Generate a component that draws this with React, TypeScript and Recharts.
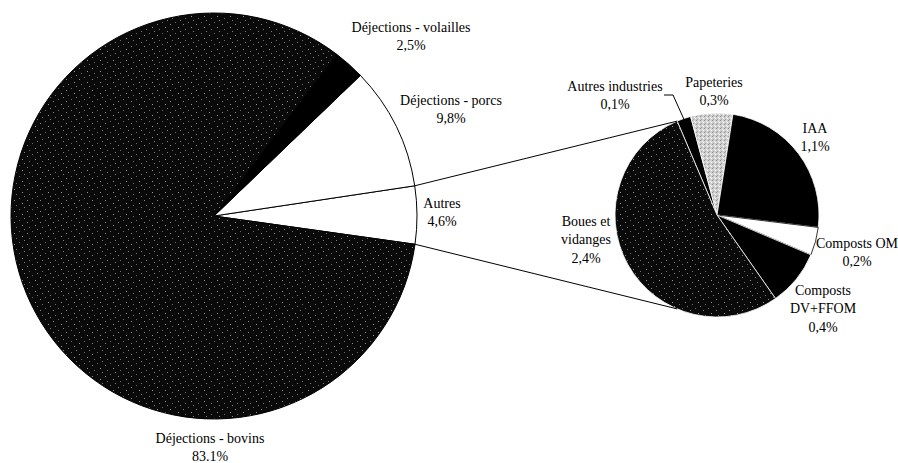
import React from 'react';
import { PieChart, Pie, Cell } from 'recharts';

// ---- data ----
const BIG_NAMES = ['Autres', 'Déjections - porcs', 'Déjections - volailles', 'Déjections - bovins'];
const BIG_VALUES = [4.6, 9.8, 2.5, 83.1];
const BIG_PCT_TEXT = ['4,6%', '9,8%', '2,5%', '83.1%'];

const SMALL_NAMES = ['Autres industries', 'Papeteries', 'IAA', 'Composts OM', 'Composts DV+FFOM', 'Boues et vidanges'];
const SMALL_VALUES = [0.1, 0.3, 1.1, 0.2, 0.4, 2.4];
const SMALL_PCT_TEXT = ['0,1%', '0,3%', '1,1%', '0,2%', '0,4%', '2,4%'];
const SMALL_NAME_LINES = [['Autres industries'], ['Papeteries'], ['IAA'], ['Composts OM'], ['Composts', 'DV+FFOM'], ['Boues et', 'vidanges']];

// ---- styles / layout ----
const BIG_FILLS = ['#ffffff', '#ffffff', '#000000', 'url(#darkDots)'];
const SMALL_FILLS = ['#000000', 'url(#lightDots)', '#000000', '#ffffff', '#000000', 'url(#darkDots)'];
const SMALL_STROKES = ['#ffffff', '#ffffff', '#ffffff', '#000000', '#ffffff', '#ffffff'];

const W = 898;
const H = 463;
const BIG = { cx: 214, cy: 216, r: 203, start: -8 };
const SMALL = { cx: 717, cy: 215, r: 102, start: 113 };
const FONT = "'Liberation Serif', 'Times New Roman', serif";
const FS = 14;
const LINE_H = 18.5;

// label anchors (center x, first line center y)
const BIG_LABEL_POS = [
  { x: 442, y: 203 },
  { x: 451, y: 100 },
  { x: 411, y: 27 },
  { x: 210, y: 438 },
];
const SMALL_LABEL_POS = [
  { x: 615, y: 86 },
  { x: 714, y: 82 },
  { x: 815, y: 128 },
  { x: 857, y: 243 },
  { x: 823, y: 290 },
  { x: 586, y: 221 },
];

const bigData = BIG_NAMES.map((name, i) => ({ name, value: BIG_VALUES[i] }));
const smallData = SMALL_NAMES.map((name, i) => ({ name, value: SMALL_VALUES[i] }));

const RAD = Math.PI / 180;
const polar = (cx: number, cy: number, r: number, a: number) => ({
  x: cx + r * Math.cos(a * RAD),
  y: cy - r * Math.sin(a * RAD),
});

const TextLines = ({ x, y, lines }: { x: number; y: number; lines: string[] }) => (
  <g>
    {lines.map((t, k) => (
      <text
        key={k}
        x={x}
        y={y + k * LINE_H}
        textAnchor="middle"
        dominantBaseline="central"
        style={{ fontFamily: FONT, fontSize: FS }}
        fill="#000"
      >
        {t}
      </text>
    ))}
  </g>
);

const renderBigLabel = (props: any) => {
  const i = props.index as number;
  const pos = BIG_LABEL_POS[i];
  const elems: React.ReactNode[] = [];
  if (i === 0) {
    const cx = props.cx ?? BIG.cx;
    const cy = props.cy ?? BIG.cy;
    const r = props.outerRadius ?? BIG.r;
    const half = (props.percent ?? 0.046) * 180;
    const a0 = props.midAngle - half;
    const a1 = props.midAngle + half;
    const pLow = polar(cx, cy, r, a0);
    const pHigh = polar(cx, cy, r, a1);
    const sHigh = polar(SMALL.cx, SMALL.cy, SMALL.r, SMALL.start);
    const sLow = polar(SMALL.cx, SMALL.cy, SMALL.r, 360 - SMALL.start);
    elems.push(
      <line key="c1" x1={pHigh.x} y1={pHigh.y} x2={sHigh.x} y2={sHigh.y} stroke="#000" strokeWidth={1} />,
      <line key="c2" x1={pLow.x} y1={pLow.y} x2={sLow.x} y2={sLow.y} stroke="#000" strokeWidth={1} />
    );
  }
  return (
    <g key={`bl-${i}`}>
      {elems}
      <TextLines x={pos.x} y={pos.y} lines={[BIG_NAMES[i], BIG_PCT_TEXT[i]]} />
    </g>
  );
};

const renderSmallLabel = (props: any) => {
  const i = props.index as number;
  const pos = SMALL_LABEL_POS[i];
  const lines = [...SMALL_NAME_LINES[i], SMALL_PCT_TEXT[i]];
  let leader: React.ReactNode = null;
  if (i === 0) {
    const tip = polar(props.cx ?? SMALL.cx, props.cy ?? SMALL.cy, (props.outerRadius ?? SMALL.r) - 2, props.midAngle);
    const sx = pos.x + 49;
    const sy = pos.y + 9;
    leader = (
      <polyline
        points={`${sx},${sy} ${sx + 9},${sy} ${tip.x},${tip.y}`}
        fill="none"
        stroke="#000"
        strokeWidth={1}
      />
    );
  }
  return (
    <g key={`sl-${i}`}>
      {leader}
      <TextLines x={pos.x} y={pos.y} lines={lines} />
    </g>
  );
};

export default function App() {
  return (
    <div style={{ position: 'absolute', left: 0, top: 0, width: W, height: H, background: '#fff' }}>
      <PieChart width={W} height={H} margin={{ top: 0, right: 0, bottom: 0, left: 0 }}>
        <defs>
          <pattern id="darkDots" patternUnits="userSpaceOnUse" width="13" height="11">
            <rect x="0" y="0" width="13" height="11" fill="#0a0a0a" />
            <rect x="1" y="2" width="1" height="1" fill="#8a8a8a" />
            <rect x="6" y="0" width="1" height="1" fill="#6a6a6a" />
            <rect x="9" y="5" width="1" height="1" fill="#9a9a9a" />
            <rect x="3" y="7" width="1" height="1" fill="#707070" />
            <rect x="11" y="9" width="1" height="1" fill="#808080" />
          </pattern>
          <pattern id="lightDots" patternUnits="userSpaceOnUse" width="4" height="4">
            <rect x="0" y="0" width="4" height="4" fill="#cfcfcf" />
            <rect x="0" y="0" width="1" height="1" fill="#8f8f8f" />
            <rect x="2" y="1" width="1" height="1" fill="#f2f2f2" />
            <rect x="1" y="3" width="1" height="1" fill="#a0a0a0" />
            <rect x="3" y="2" width="1" height="1" fill="#ffffff" />
          </pattern>
        </defs>
        <Pie
          data={bigData}
          dataKey="value"
          nameKey="name"
          cx={BIG.cx}
          cy={BIG.cy}
          outerRadius={BIG.r}
          innerRadius={0}
          startAngle={BIG.start}
          endAngle={BIG.start + 360}
          paddingAngle={0}
          label={renderBigLabel}
          labelLine={false}
          isAnimationActive={false}
        >
          {bigData.map((d, i) => (
            <Cell key={d.name} fill={BIG_FILLS[i]} stroke="#000" strokeWidth={1} />
          ))}
        </Pie>
        <Pie
          data={smallData}
          dataKey="value"
          nameKey="name"
          cx={SMALL.cx}
          cy={SMALL.cy}
          outerRadius={SMALL.r}
          innerRadius={0}
          startAngle={SMALL.start}
          endAngle={SMALL.start - 360}
          paddingAngle={0}
          label={renderSmallLabel}
          labelLine={false}
          isAnimationActive={false}
        >
          {smallData.map((d, i) => (
            <Cell key={d.name} fill={SMALL_FILLS[i]} stroke={SMALL_STROKES[i]} strokeWidth={0.8} />
          ))}
        </Pie>
      </PieChart>
    </div>
  );
}
